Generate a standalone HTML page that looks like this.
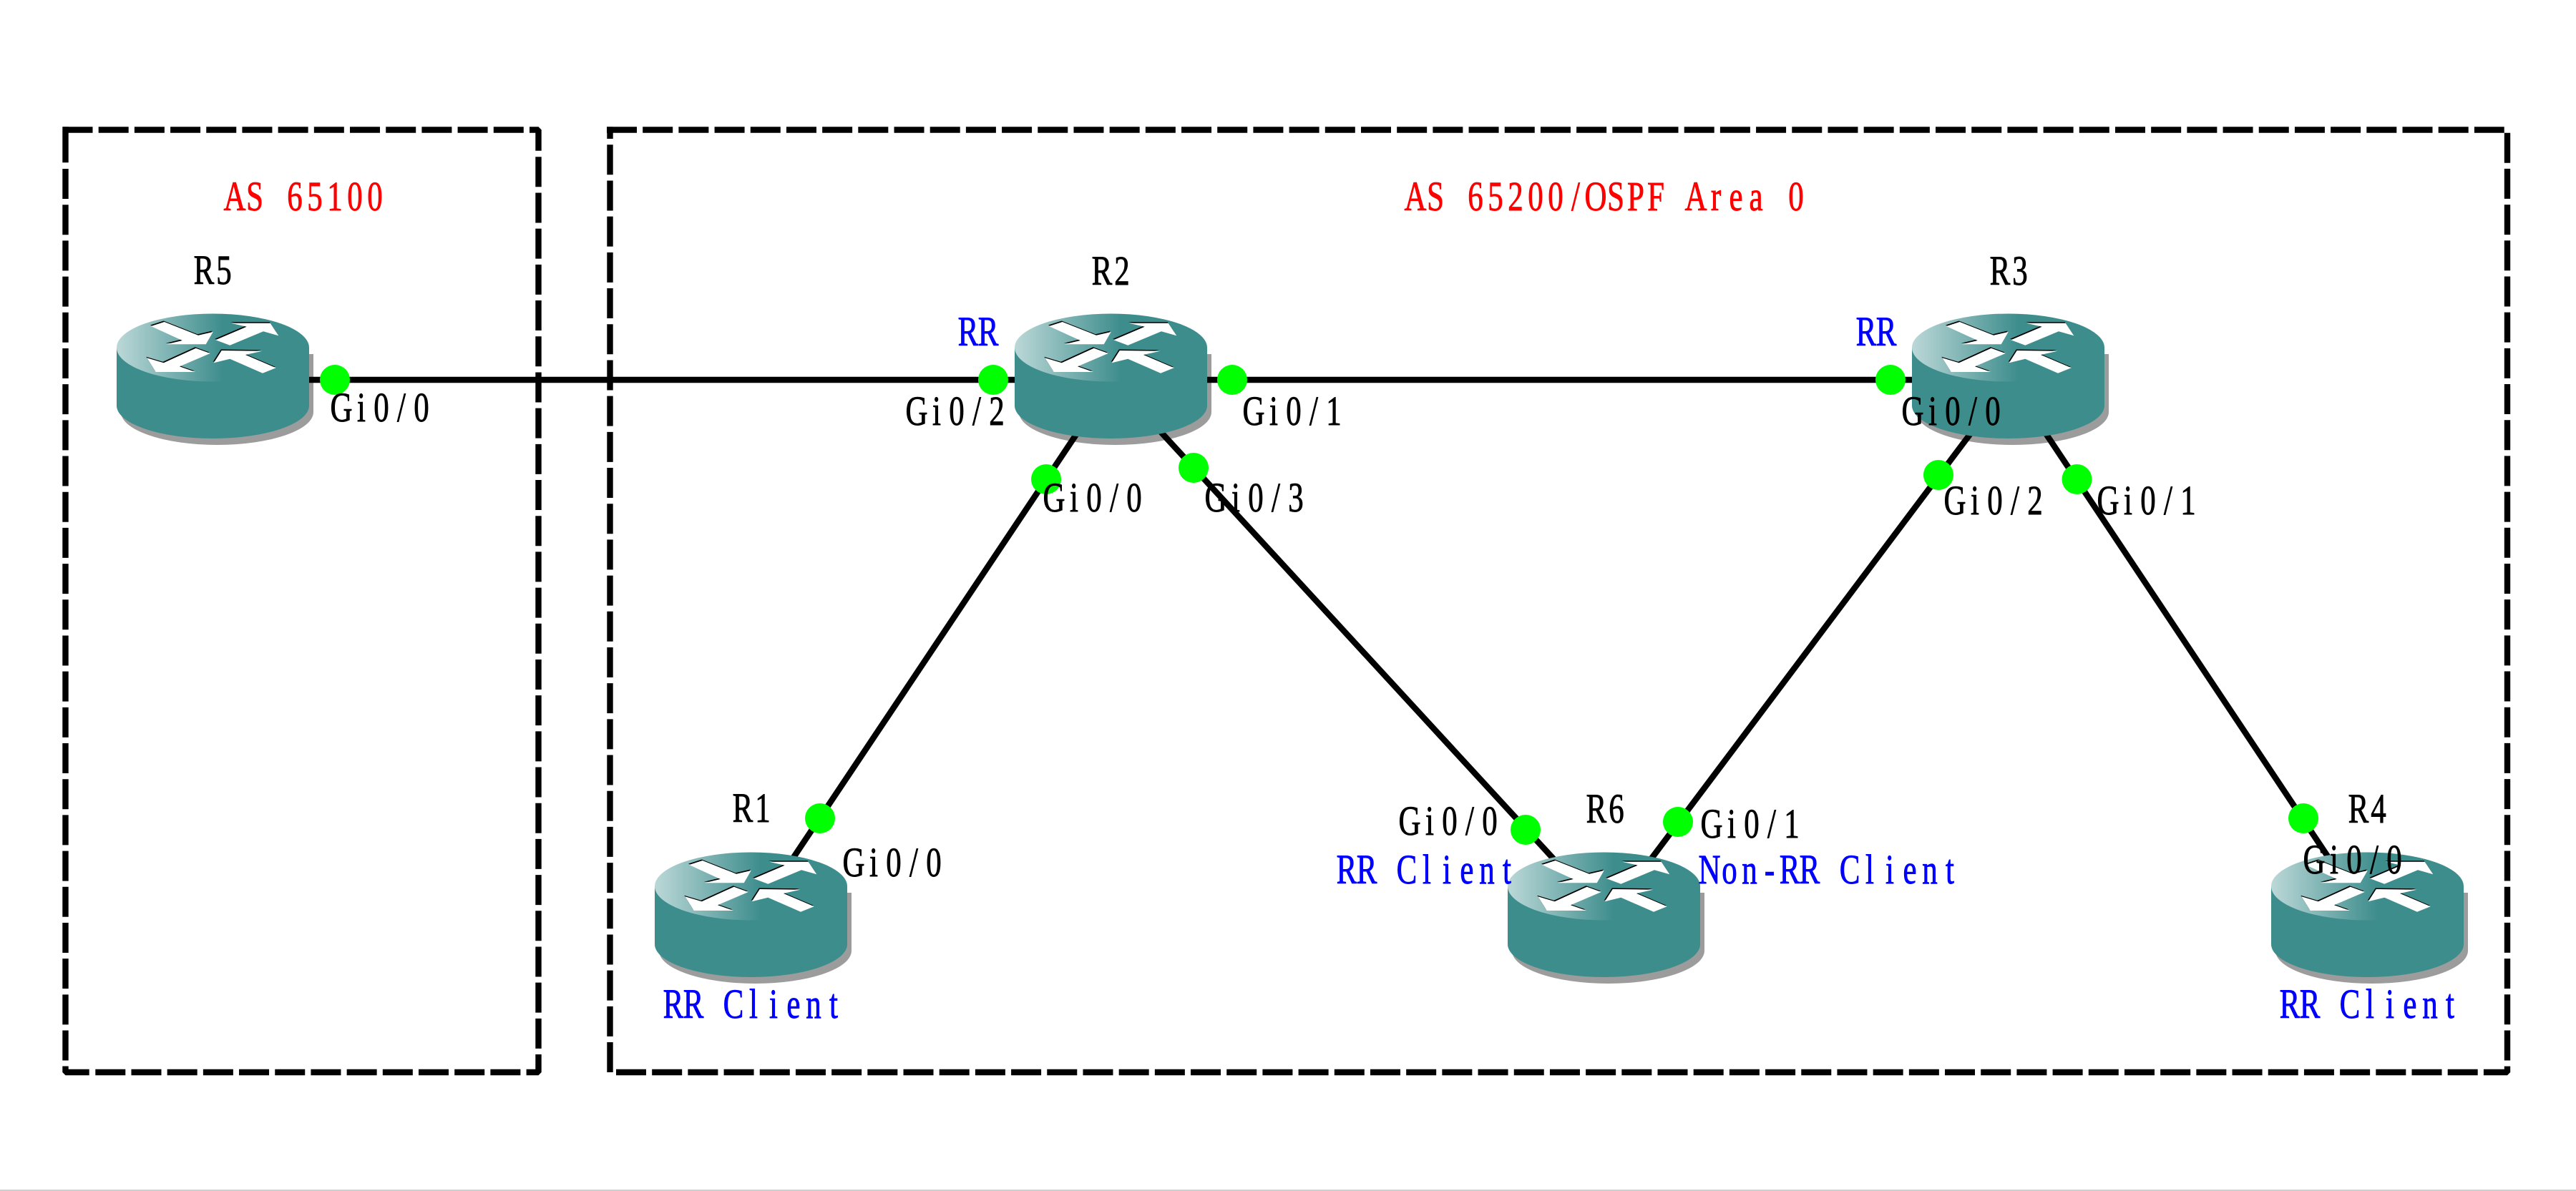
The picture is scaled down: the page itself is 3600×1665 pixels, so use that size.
<!DOCTYPE html>
<html>
<head>
<meta charset="utf-8">
<style>
html,body{margin:0;padding:0;background:#fff;width:3600px;height:1665px;overflow:hidden}
svg{display:block}
text{font-family:"Liberation Serif","Noto Serif CJK SC",serif;font-size:58px;text-anchor:middle;stroke-width:.9px}
.k{fill:#000;stroke:#000}.b{fill:#00f;stroke:#00f}.r{fill:#f00;stroke:#f00}
.d{fill:none;stroke:#000;stroke-width:8.4;stroke-dasharray:42 8.19;stroke-linejoin:bevel}
.s{fill:none;stroke:#000;stroke-width:8.4;stroke-linejoin:bevel}
.l{stroke:#000;stroke-width:8.4;fill:none}
.p{fill:#0f0}
</style>
</head>
<body>
<svg width="3600" height="1665" viewBox="0 0 3600 1665" xmlns="http://www.w3.org/2000/svg">
<defs>
<linearGradient id="g" gradientUnits="userSpaceOnUse" x1="0" y1="0" x2="148" y2="0">
<stop offset="0" stop-color="#bcd8d8"/><stop offset="1" stop-color="#3e8d8d"/>
</linearGradient>
<path id="sh" d="M6 56V137A134.5 46 0 0 0 275 137V56Z" fill="#9c9c9c"/>
<g id="rt">
<path d="M0 47V128A134.5 46 0 0 0 269 128V47Z" fill="#3e8d8d"/>
<ellipse cx="134.5" cy="47" rx="134.5" ry="47.5" fill="url(#g)"/>
<g fill="#000" transform="translate(-1,-1.5)">
<polygon points="48,17 66.7,11 114,29.7 134.7,25 124.7,42.3 69.7,42.3 91.7,37"/>
<polygon points="138.3,36.3 181.7,17.7 160,12.7 214.7,12.7 226.3,30.3 205,24.3 158.3,43.7"/>
<polygon points="110.7,47.7 130.7,55 88,73.3 110,81 54.7,81 42.3,61.3 65.7,68.3"/>
<polygon points="204,82.7 222.7,75.3 180,57 203.3,51.7 146.7,51 135.7,68.3 158.3,62.7"/>
</g>
<g fill="#fff">
<polygon points="48,17 66.7,11 114,29.7 134.7,25 124.7,42.3 69.7,42.3 91.7,37"/>
<polygon points="138.3,36.3 181.7,17.7 160,12.7 214.7,12.7 226.3,30.3 205,24.3 158.3,43.7"/>
<polygon points="110.7,47.7 130.7,55 88,73.3 110,81 54.7,81 42.3,61.3 65.7,68.3"/>
<polygon points="204,82.7 222.7,75.3 180,57 203.3,51.7 146.7,51 135.7,68.3 158.3,62.7"/>
</g>
</g>
</defs>
<rect width="3600" height="1665" fill="#fff"/>
<rect x="0" y="1663" width="3600" height="2" fill="#cfcfcf"/>

<!-- AS 65100 box -->
<path class="d" d="M87.5 181.5H732"/>
<path class="s" d="M740 181.5H752.5V210.7"/>
<path class="d" d="M752.5 219.3V1466"/>
<path class="s" d="M735.6 1499H752.5V1474"/>
<path class="d" d="M133.3 1499H727.4"/>
<path class="s" d="M91.5 1490.5V1499H124.7"/>
<path class="s" d="M91.5 177.3V227.3"/>
<path class="d" d="M91.5 236V1482.6"/>

<!-- AS 65200 box -->
<path class="d" d="M848 181.5H3499.7"/>
<path class="s" d="M852.5 177.3V194"/>
<path class="d" d="M852.5 202.3V1499"/>
<path class="d" d="M3504 185.7V1482.6"/>
<path class="s" d="M3470.9 1499H3504V1490.6"/>
<path class="d" d="M861 1499H3462.7"/>

<!-- router shadows (beneath links) -->
<use href="#sh" x="163" y="439"/>
<use href="#sh" x="1418" y="439"/>
<use href="#sh" x="2672" y="439"/>
<use href="#sh" x="915" y="1192"/>
<use href="#sh" x="2107" y="1192"/>
<use href="#sh" x="3174" y="1192"/>

<!-- links -->
<path class="l" d="M300 531H2800"/>
<path class="l" d="M1521 582L1090 1227"/>
<path class="l" d="M1604 584L2199 1231"/>
<path class="l" d="M2764.5 592L2278 1240"/>
<path class="l" d="M2833 567L3281.6 1240"/>

<!-- routers -->
<use href="#rt" x="163" y="439"/>
<use href="#rt" x="1418" y="439"/>
<use href="#rt" x="2672" y="439"/>
<use href="#rt" x="915" y="1192"/>
<use href="#rt" x="2107" y="1192"/>
<use href="#rt" x="3174" y="1192"/>

<!-- ports -->
<circle class="p" cx="468" cy="531" r="21"/>
<circle class="p" cx="1388" cy="531" r="21"/>
<circle class="p" cx="1722" cy="531" r="21"/>
<circle class="p" cx="1462" cy="670" r="21"/>
<circle class="p" cx="1668" cy="654" r="21"/>
<circle class="p" cx="2642" cy="531" r="21"/>
<circle class="p" cx="2709" cy="664" r="21"/>
<circle class="p" cx="2902.5" cy="670" r="21"/>
<circle class="p" cx="1146" cy="1144" r="21"/>
<circle class="p" cx="2132" cy="1160" r="21"/>
<circle class="p" cx="2345" cy="1149" r="21"/>
<circle class="p" cx="3219" cy="1144" r="21"/>

<!-- labels -->
<text class="r" transform="translate(314,294) scale(.74,1)" x="18.9 56.8 94.6 132.4 170.3 208.1 245.9 283.8">AS 65100</text>
<text class="r" transform="translate(1964,294) scale(.74,1)" x="18.9 56.8 94.6 132.4 170.3 208.1 245.9 283.8 321.6 359.5 397.3 435.1 473 510.8 548.6 586.5 624.3 662.2 700 737.8">AS 65200/OSPF Area 0</text>

<text class="k" transform="translate(271,397) scale(.74,1)" x="18.9 56.8">R5</text>
<text class="k" transform="translate(1526,398) scale(.74,1)" x="18.9 56.8">R2</text>
<text class="k" transform="translate(2781,398) scale(.74,1)" x="18.9 56.8">R3</text>
<text class="k" transform="translate(1024,1149) scale(.74,1)" x="18.9 56.8">R1</text>
<text class="k" transform="translate(2217,1150) scale(.74,1)" x="18.9 56.8">R6</text>
<text class="k" transform="translate(3282,1150) scale(.74,1)" x="18.9 56.8">R4</text>

<text class="b" transform="translate(1339,483) scale(.74,1)" x="18.9 56.8">RR</text>
<text class="b" transform="translate(2594,483) scale(.74,1)" x="18.9 56.8">RR</text>
<text class="b" transform="translate(927,1423) scale(.74,1)" x="18.9 56.8 94.6 132.4 170.3 208.1 245.9 283.8 321.6">RR Client</text>
<text class="b" transform="translate(1868,1235) scale(.74,1)" x="18.9 56.8 94.6 132.4 170.3 208.1 245.9 283.8 321.6">RR Client</text>
<text class="b" transform="translate(2375,1235) scale(.74,1)" x="18.9 56.8 94.6 132.4 170.3 208.1 245.9 283.8 321.6 359.5 397.3 435.1 473">Non-RR Client</text>
<text class="b" transform="translate(3186,1423) scale(.74,1)" x="18.9 56.8 94.6 132.4 170.3 208.1 245.9 283.8 321.6">RR Client</text>

<text class="k" transform="translate(463,589) scale(.74,1)" x="18.9 56.8 94.6 132.4 170.3">Gi0/0</text>
<text class="k" transform="translate(1267,594) scale(.74,1)" x="18.9 56.8 94.6 132.4 170.3">Gi0/2</text>
<text class="k" transform="translate(1738,594) scale(.74,1)" x="18.9 56.8 94.6 132.4 170.3">Gi0/1</text>
<text class="k" transform="translate(1459,715) scale(.74,1)" x="18.9 56.8 94.6 132.4 170.3">Gi0/0</text>
<text class="k" transform="translate(1685,715) scale(.74,1)" x="18.9 56.8 94.6 132.4 170.3">Gi0/3</text>
<text class="k" transform="translate(2659,594) scale(.74,1)" x="18.9 56.8 94.6 132.4 170.3">Gi0/0</text>
<text class="k" transform="translate(2718,719) scale(.74,1)" x="18.9 56.8 94.6 132.4 170.3">Gi0/2</text>
<text class="k" transform="translate(2932,719) scale(.74,1)" x="18.9 56.8 94.6 132.4 170.3">Gi0/1</text>
<text class="k" transform="translate(1179,1225) scale(.74,1)" x="18.9 56.8 94.6 132.4 170.3">Gi0/0</text>
<text class="k" transform="translate(1956,1167) scale(.74,1)" x="18.9 56.8 94.6 132.4 170.3">Gi0/0</text>
<text class="k" transform="translate(2378,1171) scale(.74,1)" x="18.9 56.8 94.6 132.4 170.3">Gi0/1</text>
<text class="k" transform="translate(3220,1221) scale(.74,1)" x="18.9 56.8 94.6 132.4 170.3">Gi0/0</text>
</svg>
</body>
</html>
